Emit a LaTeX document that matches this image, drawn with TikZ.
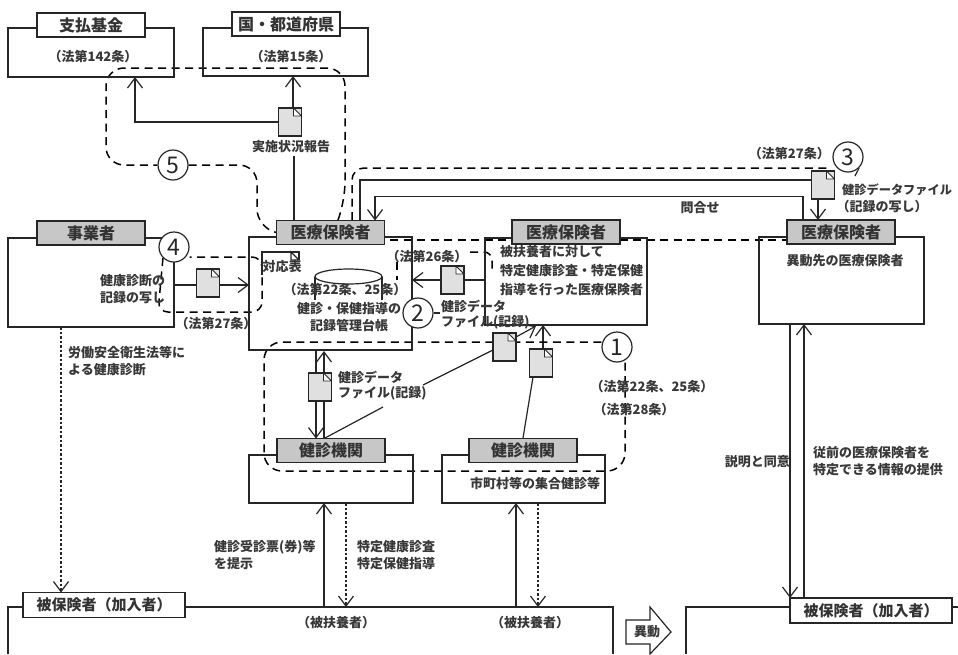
\documentclass[tikz,border=0pt]{standalone}
\usepackage{fontspec}
\setmainfont{Noto Sans CJK JP}
\usetikzlibrary{arrows.meta,fit,backgrounds}
\tikzset{
 ln/.style={draw=black!85,line width=1.2pt},
 bx/.style={ln,inner sep=0pt,outer sep=0pt},
 lab/.style={ln,fill=white,minimum width=108pt,minimum height=24pt,inner sep=0pt,outer sep=0pt,font=\fontsize{16pt}{17pt}\selectfont\bfseries,text=black!80},
 glab/.style={lab,fill=black!22},
 wlab/.style={lab,minimum width=162pt,minimum height=25pt,font=\fontsize{15pt}{17pt}\selectfont\bfseries},
 tx/.style={inner sep=0pt,font=\fontsize{13pt}{14pt}\selectfont\bfseries,text=black!78},
 num/.style={circle,ln,fill=white,minimum size=30pt,inner sep=0pt,font=\fontsize{23pt}{24pt}\selectfont,text=black!85},
 docu/.style={ln,fill=black!12,minimum width=23pt,minimum height=28pt,inner sep=0pt,outer sep=0pt,
   path picture={\draw[black!85,line width=.9pt,fill=white]
     ([xshift=-8pt]path picture bounding box.north east) -- ++(8pt,-8pt) -- ++(-8pt,0) -- cycle;}},
 dsh/.style={draw=black,line width=1.5pt,dash pattern=on 8pt off 5.5pt,rounded corners=18pt},
 dot/.style={draw=black!85,line width=1.1pt,dash pattern=on 2.5pt off 2pt},
 arr/.style={-{Straight Barb[length=10pt,width=15pt,line width=1.2pt]}},
}
\begin{document}
\begin{tikzpicture}[x=1pt,y=-1pt]
\useasboundingbox (0,0) rectangle (958,654);
% boxes
\node[bx,fit={(8,28)(174,77)}] (b1) {};
\node[bx,fit={(203,28)(368,76)}] (b2) {};
\node[bx,fit={(8,238)(174,327)}] (b3) {};
\node[bx,fit={(249,237)(412,350)}] (b4) {};
\node[bx,fit={(485,238)(647,325)}] (b5) {};
\node[bx,fit={(759,237)(924,324)}] (b6) {};
\node[bx,fit={(249,455)(413,503)}] (b7) {};
\node[bx,fit={(442,455)(605,503)}] (b8) {};
% free end points
\coordinate (p1a) at (8,654); \coordinate (p1b) at (8,607);
\coordinate (p1c) at (613,607); \coordinate (p1d) at (613,654);
\coordinate (p2a) at (686,654); \coordinate (p2b) at (686,607);
\coordinate (p2c) at (958,607);
\draw[ln] (p1a) -- (p1b) -- (23,607);
\draw[ln] (185,607) -- (p1c) -- (p1d);
\draw[ln] (p2a) -- (p2b) -- (790,607);
\draw[ln] (952,607) -- (p2c);
% labels
\node[lab] (l1) at (91,25) {支払基金};
\node[lab] (l2) at (286,24) {国・都道府県};
\node[glab] (l3) at (91,233) {事業者};
\node[glab] (l4) at (330.5,232.5) {医療保険者};
\node[glab] (l5) at (566,232) {医療保険者};
\node[glab] (l6) at (841,232) {医療保険者};
\node[glab] (l7) at (331,450.5) {健診機関};
\node[glab] (l8) at (523,450.5) {健診機関};
\node[wlab] (l9) at (104,605) {被保険者（加入者）};
\node[wlab] (l10) at (871,610.5) {被保険者（加入者）};
% numbered circles
\node[num] (n1) at (617,347) {1};
\node[num] (n2) at (418,313) {2};
\node[num] (n3) at (848,157) {3};
\node[num] (n4) at (174,247) {4};
\node[num] (n5) at (173,165) {5};
% documents
\node[docu] (d1) at (290,122) {};
\node[docu] (d2) at (208,283) {};
\node[docu] (d3) at (452.5,280) {};
\node[docu] (d4) at (504.5,347) {};
\node[docu] (d5) at (541,363) {};
\node[docu] (d6) at (320,387) {};
\node[docu] (d7) at (823,185) {};
\begin{scope}[on background layer]
\fill[white] (0,0) rectangle (958,654);
% solid connectors
\draw[ln,arr] (d1.west) -| (b1.south -| 135,0);
\draw[ln,arr] ([xshift=3pt]d1.north) -- ([xshift=3pt]d1.north |- b2.south);
\draw[ln] (294,156) -- (l4.north -| 294,0);
\draw[ln] (b3.east |- 0,285) -- (d2.west |- 0,285);
\draw[ln,arr] (d2.east |- 0,285) -- (b4.west |- 0,285);
\draw[ln,arr] (d3.west) -- (b4.east |- d3);
\draw[ln] (d3.east) -- (b5.west |- d3);
\coordinate (q1) at (360,180);
\draw[ln] (l4.north -| q1) -- (q1) -- (d7.west |- q1);
\coordinate (q3) at (375,196.5); \coordinate (q4) at (803,196.5);
\draw[ln,arr] (l6.north -| q4) -- (q4) -- (q3) -- (l4.north -| q3);
\draw[ln,arr] ([xshift=-5pt]d7.south) -- ([xshift=-5pt]d7.south |- l6.north);
\coordinate (a1) at (316,350); \coordinate (a2) at (324,351);
\draw[ln,arr] (a1) -- (l7.north -| a1);
\draw[ln,arr] (l7.north -| a2) -- (a2);
\coordinate (c1) at (423,385); \coordinate (c2) at (383,407); \coordinate (c3) at (325,438);
\draw[ln] (d4.west) ++(0,3) -- (c1);
\draw[ln] (c2) -- (c3);
\coordinate (c4) at (536,326);
\draw[ln,arr] (d4.east) ++(0,-10) -- (c4);
\coordinate (c5) at (533,377); \coordinate (c6) at (523,438);
\draw[ln] (c5) -- (c6);
\draw[ln,arr] ([xshift=2pt]d5.north) -- ([xshift=2pt]d5.north |- b5.south);
\coordinate (e1) at (324,607); \coordinate (e2) at (346,503);
\coordinate (e3) at (516,607); \coordinate (e4) at (538,503);
\draw[ln,arr] (e1) -- (e1 |- b7.south);
\draw[dot,arr] (e2) -- (e2 |- p1c);
\draw[ln,arr] (e3) -- (e3 |- b8.south);
\draw[dot,arr] (e4) -- (e4 |- p1c);
\coordinate (f1) at (61,327);
\draw[dot,arr] (f1) -- (f1 |- l9.north);
\coordinate (g1) at (790,325); \coordinate (g2) at (804,598);
\draw[ln,arr] (g1) -- (g1 |- l10.north);
\draw[ln,arr] (g2) -- (g2 |- b6.south);
% dashed loops
\draw[dsh] (338,220) -- (345,200) -- (345,68) -- (106,68) -- (106,165) -- (n5.west);
\draw[dsh] (n5.east) -- (257,165) -- (257,227) -- (l4.west);
\draw[dsh,rounded corners=12pt] (352,220) -- (352,168) -- (830,168);
\draw[dsh,rounded corners=10pt] (n4.south west) -- (158,312) -- (262,312) -- (262,257) -- (n4.east |- 0,257);
\draw[dsh] (390,240) -- (787,240);
\draw[dsh] (397,262) -- (397,280);
\draw[dsh,rounded corners=8pt] (470,252) -- (492,252) -- (492,272);
\draw[ln] (n2.east) -- (440,313);
\draw[dsh] (n1.west |- 0,342) -- (264,342) -- (264,471) -- (625,471) -- (625,347);
\draw[ln] (n3.south east) -- (855,176);
\end{scope}
% cylinder
\draw[ln] (315,277) -- (315,300) (382,277) -- (382,300);
\draw[ln,fill=white] (348.5,276.5) ellipse [x radius=33.5, y radius=7.5];
% document behind the 対応表 text
\coordinate (t1) at (262,275); \coordinate (t2) at (262,252); \coordinate (t3) at (299,252);
\draw[ln] (t1) -- (t2) -- (t3) -- ++(0,8);
\draw[ln] (291,252) -- (299,260) -- (291,260) -- cycle;
% texts
\node[tx] (t01) at (93,57) {（法第142条）};
\node[tx] (t02) at (291,57) {（法第15条）};
\node[tx] (t03) at (291,147) {実施状況報告};
\node[tx,anchor=east] (t04) at (830,154) {（法第27条）};
\node[tx,anchor=west,font=\fontsize{12.2pt}{14pt}\selectfont\bfseries] (t05) at (842,190) {健診データファイル};
\node[tx] (t06) at (882,207) {（記録の写し）};
\node[tx] (t07) at (700,208) {問合せ};
\node[tx] (t08) at (845,261) {異動先の医療保険者};
\node[tx,anchor=west] (t09) at (500,252) {被扶養者に対して};
\node[tx,anchor=west] (t10) at (500,271) {特定健康診査・特定保健};
\node[tx,anchor=west] (t11) at (500,290) {指導を行った医療保険者};
\node[tx] (t12) at (427,257) {（法第26条）};
\node[tx] (t13) at (282,267) {対応表};
\node[tx] (t14) at (345,290) {（法第22条、25条）};
\node[tx] (t15) at (349,309) {健診・保健指導の};
\node[tx] (t16) at (349,326) {記録管理台帳};
\node[tx,anchor=west] (t17) at (441,306) {健診データ};
\node[tx,anchor=west] (t18) at (441,322) {ファイル(記録)};
\node[tx,anchor=west] (t19) at (100,281) {健康診断の};
\node[tx,anchor=west] (t20) at (100,298) {記録の写し};
\node[tx] (t21) at (216,324) {（法第27条）};
\node[tx,anchor=west] (t22) at (68,353) {労働安全衛生法等に};
\node[tx,anchor=west] (t23) at (68,370) {よる健康診断};
\node[tx,anchor=west] (t24) at (338,377) {健診データ};
\node[tx,anchor=west] (t25) at (338,393) {ファイル(記録)};
\node[tx] (t26) at (652,387) {（法第22条、25条）};
\node[tx] (t27) at (634,410) {（法第28条）};
\node[tx] (t28) at (535,483) {市町村等の集合健診等};
\node[tx,anchor=west] (t29) at (214,547) {健診受診票(券)等};
\node[tx,anchor=west] (t30) at (214,564) {を提示};
\node[tx,anchor=west] (t31) at (357,547) {特定健康診査};
\node[tx,anchor=west] (t32) at (357,564) {特定保健指導};
\node[tx] (t33) at (336,623) {（被扶養者）};
\node[tx] (t34) at (530,623) {（被扶養者）};
\node[tx,anchor=east] (t35) at (790,462) {説明と同意};
\node[tx,anchor=west] (t36) at (813,453) {従前の医療保険者を};
\node[tx,anchor=west] (t37) at (813,470) {特定できる情報の提供};
% move arrow
\draw[ln,fill=white] (626,620) -- (650,620) -- (650,607) -- (671,632) -- (650,654) -- (650,644) -- (626,644) -- cycle;
\node[tx] (t38) at (647,632) {異動};
\end{tikzpicture}
\end{document}
